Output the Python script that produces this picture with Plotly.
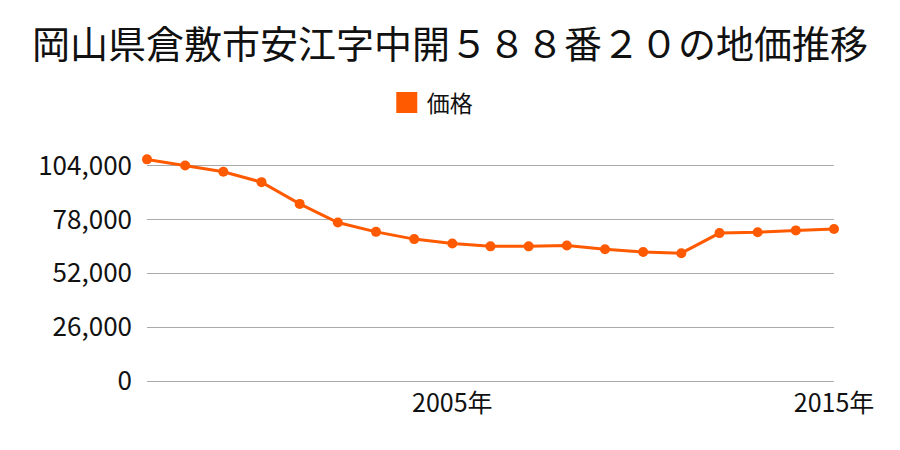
import plotly.graph_objects as go

years = list(range(1997, 2016))
prices = [107000, 104000, 101000, 96000, 85500, 76500, 72000, 68500, 66400,
          65000, 65000, 65400, 63600, 62300, 61700, 71400, 71800, 72700, 73400]
y_ticks = [0, 26000, 52000, 78000, 104000]
y_tick_labels = ["0", "26,000", "52,000", "78,000", "104,000"]
x_ticks = [2005, 2015]
x_tick_labels = ["2005年", "2015年"]
title = "岡山県倉敷市安江字中開５８８番２０の地価推移"
series_name = "価格"

color = "#ff5a00"
font = "Noto Sans CJK JP"

fig = go.Figure()
fig.add_trace(go.Scatter(
    x=years, y=prices, mode="lines+markers", name=series_name,
    line=dict(color=color, width=3),
    marker=dict(color=color, size=10),
    cliponaxis=False, showlegend=False,
))
# legend entry drawn as a square swatch
fig.add_trace(go.Scatter(
    x=[None], y=[None], mode="markers", name=series_name,
    marker=dict(color=color, size=20, symbol="square",
                line=dict(color=color, width=5)),
    showlegend=True,
))

fig.update_layout(
    width=900, height=450,
    paper_bgcolor="white", plot_bgcolor="white",
    margin=dict(l=147, r=66, t=149, b=69),
    font=dict(family=font, color="#111111", size=25),
    title=dict(text=title, x=0.5, xanchor="center", y=0.9, yanchor="middle",
               font=dict(size=38, family=font, color="#111111")),
    showlegend=True,
    legend=dict(orientation="h", x=0.349, xanchor="left",
                y=1.2, yanchor="middle",
                font=dict(size=23), itemsizing="trace"),
    xaxis=dict(range=[1997, 2015], tickvals=x_ticks, ticktext=x_tick_labels,
               showgrid=False, zeroline=False, showline=False, ticks="",
               ticklabelstandoff=5, tickfont=dict(size=25)),
    yaxis=dict(range=[0, 112000], tickvals=y_ticks, ticktext=y_tick_labels,
               showgrid=True, gridcolor="#aaaaaa", gridwidth=1,
               zeroline=True, zerolinecolor="#aaaaaa", zerolinewidth=1,
               showline=False, ticks="", ticklabelstandoff=14,
               tickfont=dict(size=26)),
)

fig.write_html("out.html", config={"displayModeBar": False},
               post_script="document.body.style.margin='0px';")
